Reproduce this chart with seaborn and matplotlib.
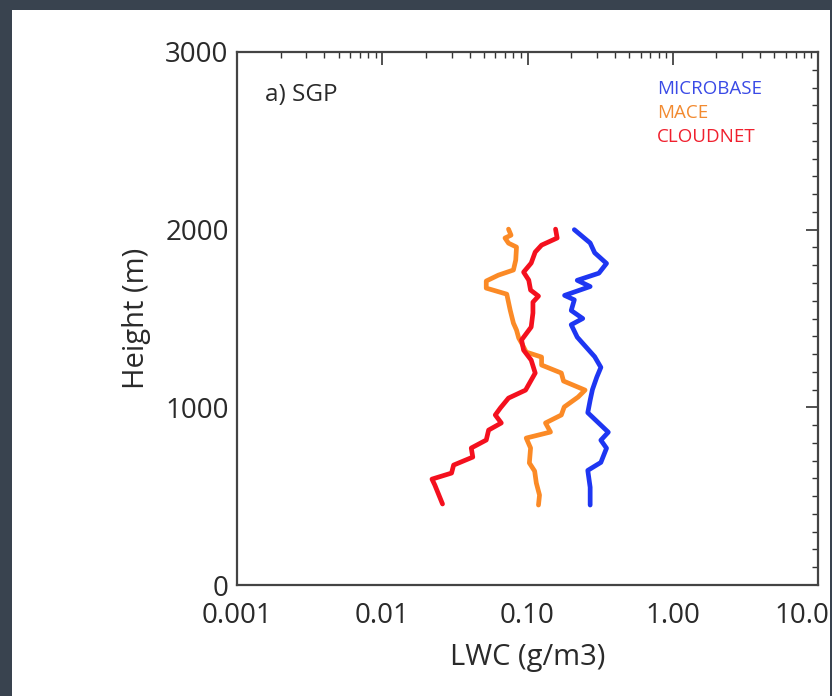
import numpy as np
import pandas as pd
import matplotlib
matplotlib.use("Agg")
import matplotlib.pyplot as plt
import matplotlib.ticker as mticker
from matplotlib.patches import Rectangle
from matplotlib.transforms import ScaledTranslation
import seaborn as sns

# ---- data ----
microbase_h = [2000, 1925, 1870, 1810, 1755, 1715, 1680, 1630, 1605, 1545, 1500, 1465,
               1395, 1285, 1225, 1170, 1100, 1040, 970, 860, 815, 770, 690, 645, 550, 450]
microbase_lwc = [0.21, 0.27, 0.29, 0.35, 0.31, 0.22, 0.27, 0.18, 0.21, 0.20, 0.24, 0.20,
                 0.22, 0.29, 0.32, 0.30, 0.28, 0.27, 0.26, 0.36, 0.32, 0.35, 0.32, 0.26, 0.27, 0.27]

mace_h = [2003, 1969, 1953, 1924, 1902, 1829, 1773, 1744, 1711, 1671, 1637, 1547, 1474,
          1435, 1390, 1362, 1311, 1283, 1238, 1193, 1148, 1097, 1058, 1002, 957, 912, 861,
          827, 771, 687, 641, 574, 506, 450]
mace_lwc = [0.074, 0.077, 0.070, 0.074, 0.084, 0.083, 0.080, 0.063, 0.052, 0.052, 0.072,
            0.076, 0.080, 0.084, 0.087, 0.091, 0.098, 0.125, 0.125, 0.171, 0.177, 0.249,
            0.223, 0.179, 0.171, 0.133, 0.144, 0.098, 0.105, 0.103, 0.112, 0.115, 0.121, 0.119]

cloudnet_h = [2003, 1953, 1913, 1874, 1812, 1761, 1716, 1660, 1626, 1592, 1531, 1452, 1379,
              1322, 1266, 1193, 1097, 1052, 996, 957, 912, 872, 816, 771, 720, 675, 630,
              596, 563, 456]
cloudnet_lwc = [0.156, 0.160, 0.125, 0.113, 0.106, 0.094, 0.102, 0.105, 0.119, 0.109, 0.109,
                0.106, 0.091, 0.094, 0.106, 0.113, 0.097, 0.074, 0.065, 0.060, 0.066, 0.054,
                0.052, 0.041, 0.042, 0.031, 0.030, 0.022, 0.023, 0.026]

series_names = ["MICROBASE", "MACE", "CLOUDNET"]
line_colors = ["#1e36f2", "#fb8a26", "#f4101e"]
text_colors = ["#3a4ae6", "#f28a30", "#f0202e"]

x_ticks = [0.001, 0.01, 0.1, 1.0, 10.0]
x_ticklabels = ["0.001", "0.01", "0.10", "1.00", "10.0"]
y_ticks = [0, 1000, 2000, 3000]

frames = []
for name, h, v in zip(series_names,
                      [microbase_h, mace_h, cloudnet_h],
                      [microbase_lwc, mace_lwc, cloudnet_lwc]):
    frames.append(pd.DataFrame({"height": h, "lwc": v, "source": name}))
df = pd.concat(frames, ignore_index=True)

# ---- figure ----
sns.set_style("white")
plt.rcParams["font.family"] = ["Open Sans", "DejaVu Sans"]

W, H = 832, 696
fig = plt.figure(figsize=(W / 100, H / 100), dpi=100)
fig.patch.set_facecolor("#39434f")
bg = Rectangle((12 / W, 0), (830 - 12) / W, (H - 10) / H,
               transform=fig.transFigure, facecolor="white",
               edgecolor="none", zorder=-10)
fig.add_artist(bg)

ax = fig.add_axes([237 / W, (H - 585) / H, (818 - 237) / W, (585 - 52) / H])
ax.set_zorder(5)
ax.set_facecolor("white")

sns.lineplot(data=df, x="lwc", y="height", hue="source", units="source",
             estimator=None, sort=False, palette=dict(zip(series_names, line_colors)),
             linewidth=3.4, legend=False, ax=ax)

ax.set_xscale("log")
ax.set_xlim(0.001, 10.0)
ax.set_ylim(0, 3000)
ax.set_xticks(x_ticks)
ax.set_xticklabels(x_ticklabels)
ax.xaxis.set_minor_locator(mticker.LogLocator(base=10, subs=np.arange(2, 10)))
ax.xaxis.set_minor_formatter(mticker.NullFormatter())
ax.set_yticks(y_ticks)
ax.yaxis.set_minor_locator(mticker.MultipleLocator(100))

ax.tick_params(which="both", direction="in", top=True, right=True, color="#333333",
               labelsize=20, labelcolor="#2a2a2a")
ax.tick_params(which="major", length=9, width=1.2)
ax.tick_params(which="minor", length=4.5, width=1.0)
ax.tick_params(axis="x", pad=12.5)
ax.tick_params(axis="y", pad=6)

# the last x label sits a little left of its tick (as in the reference)
last = ax.get_xticklabels()[-1]
last.set_transform(last.get_transform() + ScaledTranslation(-16 / 100, 0, fig.dpi_scale_trans))

for sp in ax.spines.values():
    sp.set_color("#444444")
    sp.set_linewidth(1.6)

ax.set_xlabel("LWC (g/m3)", fontsize=21, color="#2a2a2a", labelpad=9)
ax.set_ylabel("Height (m)", fontsize=21, color="#2a2a2a", labelpad=10)

ax.text(0.048, 0.919, "a) SGP", transform=ax.transAxes, fontsize=17.5,
        color="#2a2a2a", va="center", ha="left")

for i, (name, col) in enumerate(zip(series_names, text_colors)):
    ax.text(0.723, 0.930 - i * 0.0445, name, transform=ax.transAxes, fontsize=13.5,
            color=col, va="center", ha="left")

fig.savefig("out.png", dpi=100, facecolor=fig.get_facecolor())
